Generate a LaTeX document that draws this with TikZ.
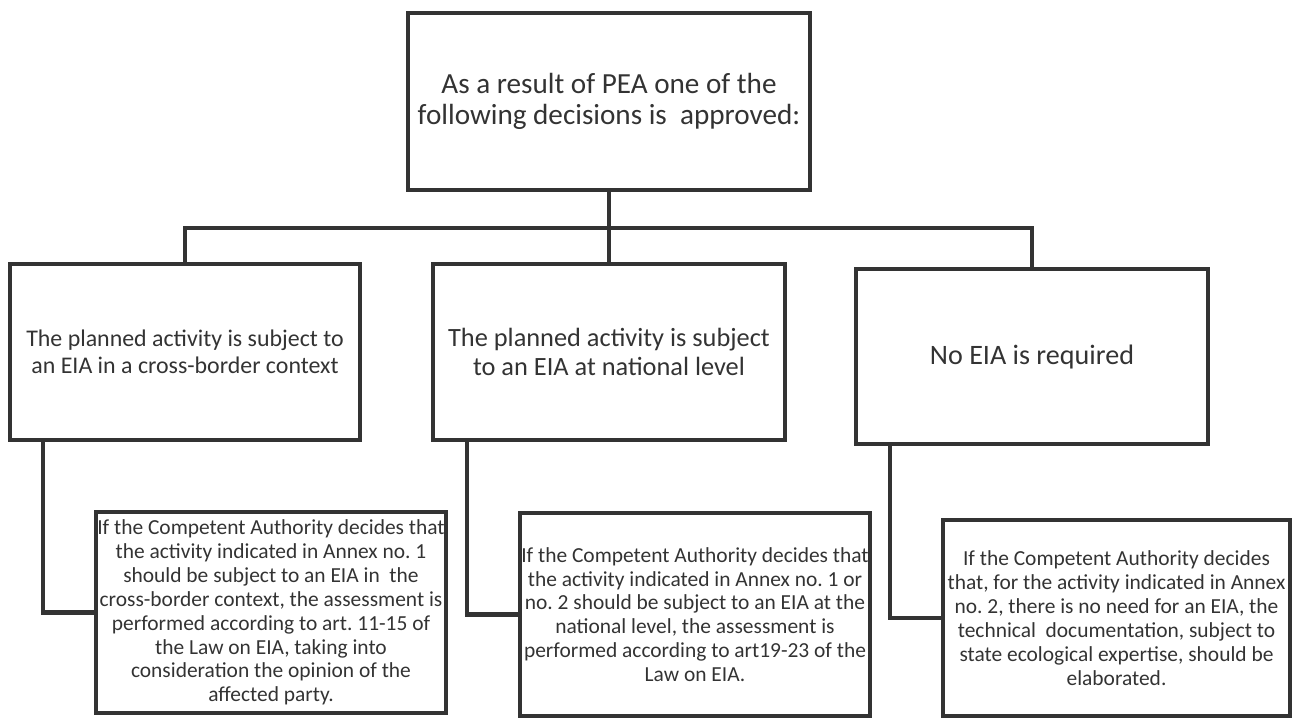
\documentclass[tikz,border=0pt]{standalone}
\usepackage{fontspec}
\setmainfont{Carlito}
\usetikzlibrary{positioning}
\definecolor{ink}{HTML}{333333}
\frenchspacing

\begin{document}
\begin{tikzpicture}[x=0.02cm,y=-0.02cm,
   box/.style={draw=ink,line width=2.3pt,text=ink,align=center,inner sep=1pt},
   wire/.style={draw=ink,line width=2.3pt}]
   \useasboundingbox (0,0) rectangle (1292,718);
   \node[box,minimum width=8.04cm,minimum height=3.54cm,font=\fontsize{16.6}{18}\selectfont] (top) at (609,101.5) {As a result of PEA one of the\\following decisions is~ approved:};
   \node[box,minimum width=7cm,minimum height=3.52cm,font=\fontsize{13.6}{15.6}\selectfont] (cross) at (185,352) {The planned activity is subject to\\an EIA in a cross-border context};
   \node[box,minimum width=7.04cm,minimum height=3.52cm,font=\fontsize{15}{16.6}\selectfont] (national) at (609,352) {The planned activity is subject\\to an EIA at national level};
   \node[box,minimum width=7.04cm,minimum height=3.5cm,font=\fontsize{16}{18}\selectfont] (none) at (1032,356.5) {No EIA is required};
   \node[box,minimum width=7cm,minimum height=4.02cm,font=\fontsize{12.2}{13.6}\selectfont] (crossnote) at (271,612.5) {If the Competent Authority decides that\\the activity indicated in Annex no. 1\\should be subject to an EIA in~ the\\cross-border context, the assessment is\\performed according to art. 11-15 of\\the Law on EIA, taking into\\consideration the opinion of the\\affected party.};
   \node[box,minimum width=7cm,minimum height=4.06cm,font=\fontsize{12.2}{13.6}\selectfont] (nationalnote) at (695,614.5) {If the Competent Authority decides that\\the activity indicated in Annex no. 1 or\\no. 2 should be subject to an EIA at the\\national level, the assessment is\\performed according to art19-23 of the\\Law on EIA.};
   \node[box,minimum width=6.94cm,minimum height=3.92cm,font=\fontsize{12.2}{13.6}\selectfont] (nonenote) at (1116.5,618) {If the Competent Authority decides\\that, for the activity indicated in Annex\\no. 2, there is no need for an EIA, the\\technical~ documentation, subject to\\state ecological expertise, should be\\elaborated.};
   \coordinate (bus) at (609,228);
   \draw[wire] (top.south)--(national.north);
   \draw[wire] (cross.north) |- (bus) -| (none.north);
   \draw[wire] ([xshift=0.7cm]cross.south west) |- (crossnote.west);
   \draw[wire] ([xshift=0.72cm]national.south west) |- (nationalnote.west);
   \draw[wire] ([xshift=0.72cm]none.south west) |- (nonenote.west);
\end{tikzpicture}
\end{document}
